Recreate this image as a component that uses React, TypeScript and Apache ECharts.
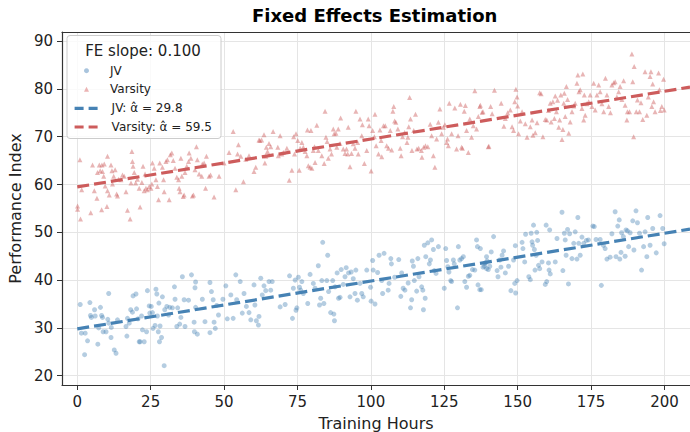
import React, { useEffect, useRef } from "react";
import * as echarts from "echarts";

const FONT = "DejaVu Sans";

const xTicks = [0, 25, 50, 75, 100, 125, 150, 175, 200];
const yTicks = [20, 30, 40, 50, 60, 70, 80, 90];

const jvPoints: [number, number][] = [
  [1.0,34.9],[1.4,28.9],[2.7,28.9],[2.5,24.4],[3.5,27.3],[4.3,35.3],[4.5,32.6],[4.8,32.2],[5.9,33.8],[6.1,32.5],
  [7.0,26.6],[7.3,30],[7.9,34.3],[8.3,32.6],[8.6,32.2],[8.8,29.2],[9.8,29.2],[10.4,31.8],[10.7,37.2],[10.7,31],
  [11.5,28],[11.6,30.1],[12.6,25.4],[13.2,24.7],[13.7,31.7],[16.6,30.3],[16.9,28.3],[17.1,32],[17.7,31],[18.2,33.8],
  [18.8,33.3],[19.0,36.7],[20.0,37.1],[20.2,34],[20.7,31.9],[21.1,27.1],[21.4,27.1],[21.9,32.5],[22.2,29.6],[22.8,27.1],
  [23.6,29.2],[23.9,37.8],[24.5,34.6],[24.7,33.1],[25.2,34.5],[25.6,33.2],[25.8,29.9],[26.5,30.5],[26.8,38.1],[27.1,37.1],
  [27.3,32.5],[27.6,29.2],[27.8,35.2],[28.0,27.1],[28.2,30.4],[28.7,28],[29.0,36.5],[29.6,22.1],[29.8,33.8],[30.5,34.5],
  [31.1,32.7],[31.5,34.3],[32.4,34.2],[33.1,38.6],[33.3,36],[33.9,30.3],[34.2,34.2],[34.9,30.8],[35.3,32.2],[35.8,40.7],
  [36.4,35.9],[36.7,30.3],[37.9,35.8],[38.9,41.1],[39.8,31.2],[39.9,29.2],[40.1,38.4],[40.3,39.6],[40.3,34.3],[40.9,28.7],
  [42.6,36],[43.5,31.3],[45.2,39.5],[45.2,29],[45.7,37.6],[46.3,35.9],[46.6,31.2],[47.0,29.9],[47.5,34.7],[48.1,32.7],
  [49.6,36],[50.6,38.8],[51.1,31.9],[52.3,36.9],[53.1,32],[54.0,41.1],[54.3,35.9],[55.5,39.7],[56.2,33.1],[56.8,37.2],
  [57.6,34.5],[58.5,33.2],[59.1,31.7],[60.2,39],[60.5,34.8],[61.0,31.5],[61.7,30.6],[61.9,32.4],[62.5,40.4],[63.0,36.9],
  [63.6,38.8],[64.2,37.8],[65.3,39.7],[65.9,37.9],[66.4,39.7],
  [69.1,34.4],[70.8,34.9],[72.3,40.9],[73.3,32],[73.6,38.3],[74.2,40],[74.5,33.7],[74.8,34.2],[75.3,40.6],[75.7,38.5],
  [76.1,37.9],[76.5,39.7],[77.0,37.2],[78.5,35.1],[79.3,41.2],[80.4,39.3],[81.0,38.3],[82.1,43],[82.5,34.8],[82.9,36.2],
  [83.3,39.9],[83.6,47.9],[84.0,35.1],[85.0,39.9],[85.3,45.2],[85.6,37.6],[86.3,33.2],[87.0,39.9],[87.4,32.9],[87.6,31.5],
  [87.8,38.6],[88.5,41.5],[89.0,36.2],[89.5,36.4],[89.9,42.2],[90.6,39.1],[91.2,40.7],[91.6,42.6],[92.4,41.5],[92.9,36.5],
  [93.3,41.7],[94.0,40.3],[94.6,37.2],[94.9,42.1],[95.4,35.8],[96.3,39.3],[96.9,37.2],[97.4,36.5],[98.6,42.1],[99.9,38.5],
  [100.1,35.6],[100.6,44.1],[100.8,42.1],[101.4,35],[102.3,41.6],[102.8,45.2],[103.7,39.9],[104.0,37.2],[104.5,45.6],[105.9,37.9],
  [106.2,39.3],[106.8,44.5],[107.0,43.4],[108.1,40.6],[109.5,44.3],[110.2,36.6],[110.5,41.5],[111.0,38.3],[111.6,37.9],[112.7,39.4],
  [113.5,34.2],[113.9,35.9],[114.1,44],[114.5,42.9],[114.8,39.9],[115.6,37.7],[116.0,44.5],[116.4,40.7],[117.3,38.6],[117.7,37.9],
  [117.9,33.8],[118.2,47.3],[118.5,36.2],[118.7,44.9],[119.4,47.8],[119.9,43.4],[120.3,44.2],[120.7,48.4],[121.3,46.4],[121.6,42],
  [122.2,41.4],[123.0,47],[125.0,38.3],[125.5,46.6],[125.8,44.1],[126.2,42.8],[126.6,41.7],[127.2,39.9],[127.5,39.7],[128.1,44.2],
  [128.4,43.4],[129.5,34.2],[129.8,47],[130.3,44.2],[130.9,44.5],[131.5,44.9],[132.0,39.7],[132.6,38.5],[133.2,40.8],[133.7,41],
  [134.6,42.2],[135.4,42.1],[136.0,48.4],[136.3,47],[136.5,39],[137.1,38],[138.2,42.7],[138.8,43.5],[139.4,44.9],[140.0,42.2],
  [137.3,46.6],[137.6,38],[138.7,42.9],[139.1,43.6],[139.4,42.4],[139.6,44],[140.5,42.9],[141.0,45.9],[141.8,49.1],[143.0,42],
  [143.3,40.7],[143.9,44.2],[144.3,42.7],[144.7,45.2],[145.2,46.1],[145.8,41.5],[146.9,42.9],[147.7,37.8],[148.6,44.2],[149.0,39.3],
  [149.2,47.2],[149.3,37.3],[149.8,39.9],[151.5,47.9],[151.8,46.6],[152.4,43.8],[152.7,49.6],[153.8,40.7],[154.3,40.1],[154.6,49.8],
  [154.9,48],[155.1,47.3],[155.4,51.5],[155.7,46.4],[155.9,42.1],[156.3,45.2],[156.5,50],[156.8,48.3],[157.1,43.1],[157.5,42.4],
  [158.3,43.8],[159.4,39.1],[159.7,51.5],[159.9,39.7],[160.5,43.6],[160.7,42.1],[160.9,50.5],[161.1,41.3],[162.8,43.8],[163.4,48.7],
  [165.1,54.2],[165.4,42],[165.9,49.8],[166.2,48.4],[166.5,45.2],[167.0,50.6],[167.3,39.2],[167.7,49.7],[168.5,44.5],[169.1,47.7],
  [169.6,50.1],[170.2,44.4],[170.5,53.1],[170.8,47.7],[171.3,45.2],[171.9,49],[172.5,47.7],[173.4,48.3],[174.1,48.4],[175.6,51.3],
  [176.1,51.2],[176.7,48.5],[178.1,48.5],[178.5,38.9],[179.2,47.3],[179.8,46.6],[180.4,44.4],[181.5,44.8],[182.1,49.7],[183.2,54.3],
  [183.5,44.9],[184.1,51.3],[184.6,52.6],[184.8,44.4],[185.2,45.8],[185.4,49.9],[186.0,49.1],[186.6,45],[186.9,50.5],[187.4,50.3],
  [187.8,47],[188.3,49.9],[189.2,52.4],[189.6,46.3],[190.3,54.5],[190.8,52],[191.5,49.8],[192.2,42.1],[192.9,47],[193.4,50.1],
  [194.0,44.9],[194.3,53.1],[195.1,47.3],[196.0,50.8],[197.2,45.7],[198.5,53.5],[199.4,50.8],[199.9,47.6]
];

const varsityPoints: [number, number][] = [
  [0.1,55.5],[0.1,54.8],[0.9,65.2],[1.1,52.8],[1.5,58.9],[4.6,54.1],[5.2,64.1],[5.8,58.7],[6.7,57.1],[6.9,62.5],
  [7.5,64.1],[7.8,62.9],[8.3,54.7],[8.4,64.1],[8.6,62.7],[9.0,61.7],[9.2,64.3],[9.5,59.7],[10.1,55.4],[10.3,65.9],
  [10.3,58.7],[10.9,57.8],[11.5,64.1],[11.8,62.9],[12.0,60.1],[12.4,61.7],[12.9,63.1],[13.4,58],[13.7,57.6],[14.1,61.1],
  [14.9,61],[15.4,62],[16.0,61.7],[16.6,58.5],[17.1,54.6],[18.0,52.8],[18.3,60.3],[18.6,66.9],[18.8,64.8],[19.0,63.8],
  [19.4,62.5],[19.9,60.3],[20.5,61.1],[21.1,59.2],[21.4,55.3],[22.0,60.4],[22.4,63.8],[22.8,58.7],[23.1,62.2],[23.4,59.2],
  [23.9,58.9],[24.5,59.6],[25.1,59.2],[25.4,60.1],[25.6,64.5],[26.2,63.4],[26.8,61],[27.3,59.6],[27.7,56.8],[28.1,64.5],
  [29.0,63.6],[29.4,61],[29.6,58.5],[30.2,64.8],[30.7,65.2],[31.3,56.8],[31.7,66.2],[32.2,66.6],[32.7,65],[33.3,63.4],
  [33.9,61.5],[34.5,61],[34.7,59.2],[35.0,58.5],[35.3,65.5],[35.6,61.7],[36.1,57.5],[36.4,57.8],[36.7,62.5],[37.3,63.8],
  [37.9,64.8],[38.1,66.6],[38.7,65.5],[39.2,57.6],[39.6,57.8],[40.1,63.1],[40.6,67.9],[40.9,65.2],[41.5,62.2],[42.4,61.7],
  [42.6,64.3],[43.2,64.5],[43.7,59.2],[44.0,65.9],[44.9,61.7],[45.4,62],[46.6,57.4],[48.3,61.7],[50.0,64.5],[51.7,66.7],
  [53.1,71.1],[54.0,58.9],[54.6,66.4],[54.9,68.3],[55.7,65.9],[56.6,60.6],[57.4,65.3],[58.5,66],[60.2,62.7],[60.8,63.6],
  [61.9,69.3],[62.2,69.2],[62.8,69.3],[63.6,70.4],[63.9,64.5],[64.2,65.9],[64.4,67.8],[64.8,66.9],[65.3,68.6],[65.9,67.9],
  [66.7,71.1],
  [68.3,67.8],[68.5,66],[69.1,70.2],[69.7,66.4],[70.2,66.7],[71.4,67.6],[72.2,60.9],[73.1,63],[73.7,70],[74.0,66.4],
  [74.5,70.6],[75.1,69.2],[75.6,63],[75.9,67.6],[76.5,68.8],[77.0,67.8],[77.6,66.9],[78.2,66],[78.4,71.4],[78.7,63.9],
  [79.3,63.6],[79.6,71.3],[79.9,63.4],[80.4,67.1],[80.8,67.9],[81.0,64.6],[81.6,72.4],[82.1,67.1],[83.3,66],[84.1,64.4],
  [84.4,75.3],[84.7,69.9],[85.1,69],[85.5,65.5],[86.1,67.4],[86.6,66.4],[87.2,71.6],[87.5,70.6],[88.1,70.7],[88.4,67.8],
  [88.9,71.6],[89.5,68.6],[89.7,73.9],[90.6,67.4],[91.2,66.5],[91.7,67.4],[92.1,66.4],[92.3,72],[92.9,63.7],[93.4,66.5],
  [94.0,68.5],[94.6,67.6],[94.9,75.3],[95.5,68.8],[95.7,66.4],[96.3,73.7],[96.9,70.2],[97.1,72.5],[97.8,64.4],[98.6,67.1],
  [99.1,73.7],[99.4,72.3],[100.1,62.8],[100.6,71.3],[101.2,70],[101.4,74.7],[101.8,68.1],[102.6,66.4],[103.1,71.4],[103.5,69.2],
  [103.7,65.8],[104.3,72.3],[104.9,72.3],[105.4,68.1],[106.0,67.6],[106.6,71.3],[107.1,67.2],[107.5,75.3],[107.8,76.3],[108.1,73.3],
  [108.5,73],[109.2,71.6],[110.0,67.6],[110.3,66],[110.8,70],[111.5,70.9],[112.3,68.8],[112.6,69.9],[112.9,72.1],[113.2,78.2],
  [113.5,73.7],[114.0,67.1],[114.6,71.3],[115.2,74.7],[115.7,67.4],[116.3,67.6],[117.2,67.1],[117.4,65.7],[118.0,67.8],[118.6,68.1],
  [119.4,67.9],[120.2,72.6],[120.7,70.2],[121.3,66],[121.8,63.6],[122.4,69.5],[123.0,73],[123.5,75.8],[124.1,70.6],[124.7,72],
  [125.2,72.5],[125.8,68.8],[126.1,69.5],[126.4,68.1],[126.7,77],[127.5,70.6],[128.6,76],[129.2,67.4],[129.7,70.2],[130.5,76.8],
  [130.9,67.8],[131.2,67.6],[131.8,75.3],[132.2,76.5],[132.6,71.3],[133.2,66.7],[133.7,73.7],[134.3,69.9],[134.9,72.3],[135.4,79.6],
  [136.0,71.6],[136.6,74.2],[137.1,76.3],[137.9,75.1],[140.0,67.9],
  [137.3,76.6],[138.2,75.2],[140.2,68],[140.8,76.3],[141.3,74.8],[142.1,79.7],[144.4,77],[145.3,72.2],[145.8,73.8],[146.6,75],
  [147.5,75.6],[148.1,72.1],[148.6,71.3],[149.0,77.3],[149.4,79.9],[149.8,78.3],[150.0,76.4],[150.3,70.6],[150.9,73.3],[151.5,75.2],
  [152.6,72.7],[153.2,69.9],[154.3,72.1],[154.9,73.5],[155.2,70.3],[156.0,70.8],[156.6,72.9],[157.5,79.2],[158.0,79],[158.6,70],
  [159.4,73.6],[159.9,73.5],[160.5,75.5],[161.1,77],[161.4,73.1],[162.0,77.3],[162.5,73.8],[162.8,78.5],[163.2,75.2],[163.6,77.6],
  [164.0,72],[164.3,73.5],[164.7,78.7],[165.1,69.4],[165.4,71.5],[165.7,77],[165.9,79.1],[166.2,74.2],[166.6,80.5],[167.0,77.8],
  [167.4,70.7],[167.9,73.1],[168.5,75.2],[169.1,76.4],[169.6,77],[170.2,81.2],[170.5,82.9],[170.9,79.4],[171.3,79.8],[171.9,75.9],
  [172.2,83.1],[172.5,73.5],[172.7,78.7],[173.0,74.5],[173.6,76.9],[174.2,77.3],[174.7,78.7],[175.3,76.3],[175.9,81.2],[176.4,75.6],
  [177.0,78.7],[177.6,80.8],[178.1,79.4],[178.7,76.9],[179.3,75.2],[179.9,82.2],[180.4,78.7],[181.0,76.3],[181.6,75],[182.1,80.8],
  [182.7,81.3],[183.2,81.5],[183.8,78.3],[184.4,79.4],[184.9,80.5],[185.5,77.8],[186.1,81.7],[186.6,76.6],[187.2,73.5],[187.4,75.2],
  [188.1,75.2],[188.9,87.3],[189.2,81.5],[189.5,70],[189.7,84.7],[190.4,75.2],[190.8,77.7],[191.5,75.2],[192.0,77.1],[192.6,73.6],
  [193.4,83.6],[194.0,74.5],[194.5,78.3],[195.1,82.6],[195.4,83.6],[195.7,76.3],[196.0,81],[196.3,77.3],[196.8,75.2],[198.0,83.3],
  [198.3,79.8],[198.6,75.5],[199.1,76.3],[199.7,82],[199.9,75.6]
];

// fitted lines: intercept at 0 hours and value at the right edge of the axis
const jvFit: [number, number][] = [[0, 29.8], [208.7, 50.67]];
const varsityFit: [number, number][] = [[0, 59.5], [208.7, 80.37]];

const JV_NAME = "JV";
const VAR_NAME = "Varsity";
const JV_FIT_NAME = "JV: α̂ = 29.8";
const VAR_FIT_NAME = "Varsity: α̂ = 59.5";
const legendTitle = "FE slope: 0.100";
const chartTitle = "Fixed Effects Estimation";

const BLUE = "#4682b4";
const RED = "#cd5c5c";

export default function App() {
  const ref = useRef<HTMLDivElement>(null);
  useEffect(() => {
    document.body.style.margin = "0";
    const chart = echarts.init(ref.current!, null, { renderer: "svg" });
    const axisCommon = {
      axisLine: { show: true, onZero: false, lineStyle: { color: "#333", width: 1.2 } },
      splitLine: { show: false },
    };
    chart.setOption({
      animation: false,
      backgroundColor: "#ffffff",
      textStyle: { fontFamily: FONT },
      title: {
        text: chartTitle,
        left: 252,
        top: 6,
        padding: 0,
        textStyle: { fontFamily: FONT, fontSize: 18, fontWeight: "bold", color: "#000" },
      },
      grid: { left: 62, right: 0, top: 32, bottom: 47, containLabel: false, outerBoundsMode: "none" },
      xAxis: [
        {
          type: "value",
          min: -5.2,
          max: 208.7,
          ...axisCommon,
          axisTick: { show: true, length: 5, customValues: xTicks, lineStyle: { color: "#333" } },
          axisLabel: { customValues: xTicks, fontSize: 15, color: "#222", margin: 9, fontFamily: FONT },
          name: "Training Hours",
          nameLocation: "middle",
          nameGap: 30,
          nameTextStyle: { fontSize: 16, color: "#222", fontFamily: FONT },
        },
        {
          type: "value",
          position: "top",
          min: -5.2,
          max: 208.7,
          ...axisCommon,
          axisTick: { show: false },
          axisLabel: { show: false },
        },
      ],
      yAxis: {
        type: "value",
        min: 18.06,
        max: 91.9,
        ...axisCommon,
        axisTick: { show: true, length: 5, customValues: yTicks, lineStyle: { color: "#333" } },
        axisLabel: { customValues: yTicks, fontSize: 15, color: "#222", margin: 9, fontFamily: FONT },
        name: "Performance Index",
        nameLocation: "middle",
        nameGap: 34,
        nameTextStyle: { fontSize: 16, color: "#222", fontFamily: FONT },
      },
      legend: [
        {
          orient: "vertical",
          left: 84,
          top: 63.7,
          padding: 0,
          itemWidth: 5,
          itemHeight: 5,
          itemGap: 4.6,
          data: [
            { name: JV_NAME, icon: "circle", itemStyle: { color: "#a9c4dd", opacity: 1 } },
            { name: VAR_NAME, icon: "triangle", itemStyle: { color: "#ebb3b3", opacity: 1 } },
          ],
          textStyle: { fontSize: 12, fontFamily: FONT, color: "#222", lineHeight: 14, padding: [0, 0, 0, 16] },
          selectedMode: false,
          z: 5,
        },
        {
          orient: "vertical",
          left: 73,
          top: 101.3,
          padding: 0,
          itemWidth: 27,
          itemHeight: 14,
          itemGap: 4.7,
          itemStyle: { color: "rgba(0,0,0,0)", opacity: 0, borderWidth: 0 },
          lineStyle: { width: 3.2, type: [9, 5] },
          data: [{ name: JV_FIT_NAME }, { name: VAR_FIT_NAME }],
          textStyle: { fontSize: 12, fontFamily: FONT, color: "#222", lineHeight: 14, padding: [0, 0, 0, 5] },
          selectedMode: false,
          z: 5,
        },
      ],
      graphic: [
        {
          type: "rect",
          z: 3,
          silent: true,
          shape: { x: 67, y: 35.5, width: 154, height: 103, r: 3 },
          style: { fill: "rgba(255,255,255,0.8)", stroke: "#cccccc", lineWidth: 1 },
        },
        {
          type: "text",
          z: 4,
          silent: true,
          x: 143,
          y: 50.7,
          style: {
            text: legendTitle,
            fontSize: 15,
            fontFamily: FONT,
            fill: "#222",
            align: "center",
            verticalAlign: "middle",
          },
        },
      ],
      series: [
        {
          type: "line",
          name: "grid",
          data: [],
          z: 0,
          silent: true,
          markLine: {
            z: 0,
            silent: true,
            symbol: ["none", "none"],
            label: { show: false },
            lineStyle: { color: "#e5e5e5", width: 1, type: "solid" },
            emphasis: { disabled: true },
            data: [
              ...xTicks.map((v) => ({ xAxis: v })),
              ...yTicks.map((v) => ({ yAxis: v })),
            ],
          },
        },
        {
          type: "scatter",
          name: JV_NAME,
          data: jvPoints,
          symbol: "circle",
          symbolSize: 5,
          itemStyle: { color: BLUE, opacity: 0.4 },
          z: 2,
        },
        {
          type: "scatter",
          name: VAR_NAME,
          data: varsityPoints,
          symbol: "triangle",
          symbolSize: 5,
          itemStyle: { color: RED, opacity: 0.45 },
          z: 2,
        },
        {
          type: "line",
          name: JV_FIT_NAME,
          data: jvFit,
          symbol: "none",
          showSymbol: false,
          clip: false,
          lineStyle: { color: BLUE, width: 3.2, type: [12, 5] },
          itemStyle: { color: BLUE },
          z: 3,
        },
        {
          type: "line",
          name: VAR_FIT_NAME,
          data: varsityFit,
          symbol: "none",
          showSymbol: false,
          clip: false,
          lineStyle: { color: RED, width: 3.2, type: [12, 5] },
          itemStyle: { color: RED },
          z: 3,
        },
      ],
    });
    return () => chart.dispose();
  }, []);
  return <div ref={ref} style={{ width: 690, height: 432 }} />;
}
